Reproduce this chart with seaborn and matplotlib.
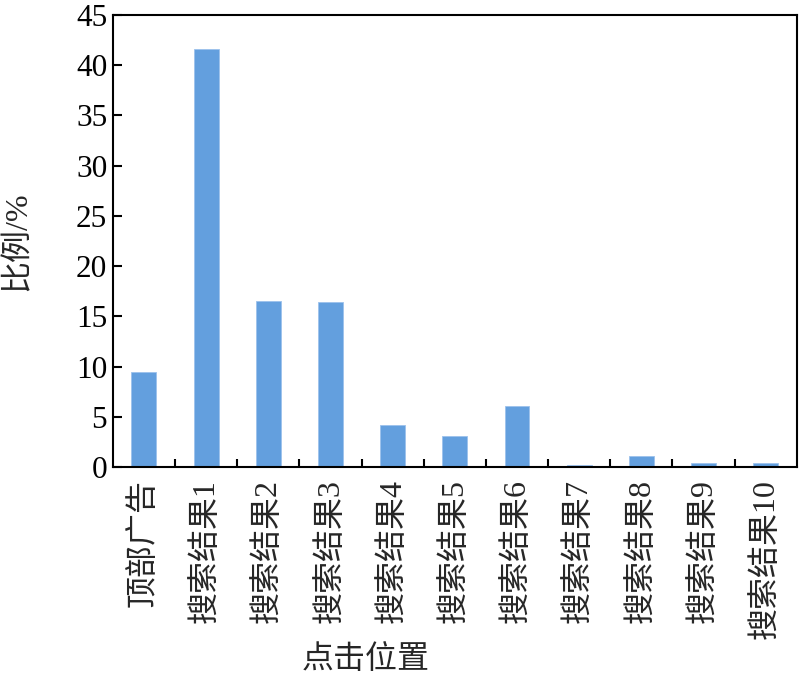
import numpy as np
import pandas as pd
import matplotlib
matplotlib.use("Agg")
import matplotlib.pyplot as plt
import seaborn as sns
from matplotlib.ticker import MultipleLocator, FixedLocator

# ── Data ──────────────────────────────────────────────────────
positions = ["顶部广告", "搜索结果1", "搜索结果2", "搜索结果3", "搜索结果4",
             "搜索结果5", "搜索结果6", "搜索结果7", "搜索结果8", "搜索结果9",
             "搜索结果10"]
ratios = [9.5, 41.6, 16.5, 16.4, 4.2, 3.1, 6.1, 0.2, 1.1, 0.4, 0.4]

# ── Style ─────────────────────────────────────────────────────
sns.set_style("ticks")
plt.rcParams["font.family"] = ["Liberation Serif", "Noto Sans CJK SC", "DejaVu Sans"]
plt.rcParams["axes.linewidth"] = 1.5

df = pd.DataFrame({"pos": positions, "ratio": ratios})

fig = plt.figure(figsize=(8, 6.81), dpi=100)
ax = fig.add_axes([0.141, 0.3143, 0.855, 0.6637])

sns.barplot(data=df, x="pos", y="ratio", order=positions, color="#639FDE",
            saturation=1, width=0.4, edgecolor="#9cc2ec", linewidth=0.6, ax=ax)

ax.set_xlim(-0.5, len(positions) - 0.5)
ax.set_ylim(0, 45)
ax.yaxis.set_major_locator(MultipleLocator(5))

for side in ["top", "right", "left", "bottom"]:
    ax.spines[side].set_visible(True)
    ax.spines[side].set_color("black")
    ax.spines[side].set_linewidth(1.5)

# y ticks inward
ax.tick_params(axis="y", direction="in", length=6.5, width=1.5,
               labelsize=22.5, colors="black", pad=4)
# category labels without tick marks, boundary ticks as minor ticks
ax.tick_params(axis="x", which="major", length=0, pad=9)
ax.xaxis.set_minor_locator(FixedLocator(np.arange(0.5, len(positions) - 0.5, 1)))
ax.tick_params(axis="x", which="minor", direction="in", length=6, width=1.5,
               colors="black")
ax.set_xticks(range(len(positions)))
ax.set_xticklabels(positions, rotation=90, ha="center", va="top", fontsize=23)

ax.set_xlabel("点击位置", fontsize=23)
ax.set_ylabel("比例/%", fontsize=23)
ax.xaxis.set_label_coords(0.37, -0.393)
ax.yaxis.set_label_coords(-0.118, 0.5)

fig.savefig("out.png", dpi=100)
